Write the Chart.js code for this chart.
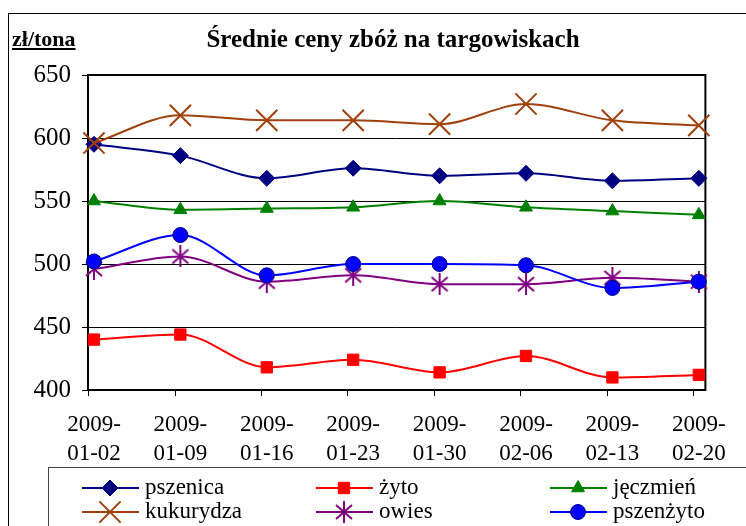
<!DOCTYPE html>
<html lang="pl">
<head>
<meta charset="UTF-8">
<title>Średnie ceny zbóż na targowiskach</title>
<script src="https://cdn.jsdelivr.net/npm/chart.js"></script>
<style>
  html, body { margin: 0; padding: 0; background: #fff; }
  canvas { display: block; }
</style>
</head>
<body>
<canvas id="myChart" width="746" height="526"></canvas>
<script>
// dane (zł/tona)
const categories = ['2009-01-02', '2009-01-09', '2009-01-16', '2009-01-23',
                    '2009-01-30', '2009-02-06', '2009-02-13', '2009-02-20'];
const pszenica  = [595, 586, 568, 576, 570, 572, 566, 568];
const zyto      = [440, 444, 418, 424, 414, 427, 410, 412];
const jeczmien  = [550, 543, 544, 545, 550, 545, 542, 539];
const kukurydza = [596, 618, 614, 614, 611, 627, 614, 610];
const owies     = [496, 506, 486, 491, 484, 484, 489, 486];
const pszenzyto = [502, 523, 491, 500, 500, 499, 481, 486];
const yTicks = [400, 450, 500, 550, 600, 650];

const SERIF = "'Liberation Serif', 'Times New Roman', Times, 'DejaVu Serif', serif";
Chart.defaults.font.family = SERIF;
Chart.defaults.color = '#000';

// gwiazdka excelowa (pionowa kreska + X)
function makeStar(color) {
    const c = document.createElement('canvas');
    c.width = 22; c.height = 22;
    const g = c.getContext('2d');
    g.strokeStyle = color;
    g.lineWidth = 2;
    g.beginPath();
    g.moveTo(11, 0); g.lineTo(11, 22);
    g.moveTo(3, 4); g.lineTo(19, 18);
    g.moveTo(3, 18); g.lineTo(19, 4);
    g.stroke();
    return c;
}

function series(label, values, color, style, radius, fill, bw) {
    return {
        label: label,
        data: values.map((v, i) => ({ x: i, y: v })),
        borderColor: color,
        borderWidth: 2,
        pointStyle: style,
        pointRadius: radius,
        pointBackgroundColor: fill,
        pointBorderColor: color,
        pointBorderWidth: bw,
        cubicInterpolationMode: 'monotone',
        fill: false,
        clip: false
    };
}

const datasets = [
    series('pszenica', pszenica, '#000080', 'rectRot', 8, '#000080', 1),
    series('żyto', zyto, '#FF0000', 'rect', 8, '#FF0000', 1),
    series('jęczmień', jeczmien, '#008000', 'triangle', 7.5, '#008000', 1),
    series('kukurydza', kukurydza, '#A0410D', 'crossRot', 15, '#A0410D', 2),
    series('owies', owies, '#800080', makeStar('#800080'), 11, '#800080', 2),
    series('pszenżyto', pszenzyto, '#0000FF', 'circle', 7.5, '#0000FF', 1)
];
datasets[5].pointBorderColor = '#000080';
// późniejsze serie rysowane na wierzchu
datasets.forEach((d, i) => { d.order = datasets.length - i; });

const extras = {
    id: 'extras',
    beforeDraw(chart) {
        const c = chart.ctx;
        c.save();
        c.fillStyle = '#fff';
        c.fillRect(0, 0, chart.width, chart.height);
        c.strokeStyle = '#000';
        c.lineWidth = 1;
        c.strokeRect(8.5, 13.5, 760, 600);
        c.restore();
    },
    beforeDatasetsDraw(chart) {
        const c = chart.ctx, a = chart.chartArea;
        c.save();
        c.strokeStyle = '#000';
        c.lineWidth = 2;
        c.strokeRect(a.left, a.top, a.right - a.left, a.bottom - a.top);
        // znaczniki osi X
        const xs = chart.scales.x;
        c.lineWidth = 1;
        c.beginPath();
        categories.forEach((cat, i) => {
            const px = Math.round(xs.getPixelForValue(i - 0.066)) + 0.5;
            c.moveTo(px, a.bottom);
            c.lineTo(px, a.bottom + 6);
        });
        c.stroke();
        c.restore();
    },
    afterDraw(chart) {
        const c = chart.ctx;
        c.save();
        // tytuł
        c.fillStyle = '#000';
        c.textBaseline = 'middle';
        c.textAlign = 'center';
        c.font = 'bold 25px ' + SERIF;
        c.fillText('Średnie ceny zbóż na targowiskach', 393, 41);
        c.textAlign = 'left';
        c.font = 'bold 22px ' + SERIF;
        const unit = 'zł/tona';
        c.fillText(unit, 12, 40);
        c.fillRect(12, 48, c.measureText(unit).width, 2);

        // legenda
        c.strokeStyle = '#444';
        c.lineWidth = 1;
        c.strokeRect(48.5, 467.5, 800, 100);
        const cols = [82, 316, 550];
        const rows = [488, 512];
        c.font = '23px ' + SERIF;
        chart.data.datasets.forEach((d, k) => {
            const x0 = cols[k % 3], y = rows[Math.floor(k / 3)];
            c.strokeStyle = d.borderColor;
            c.lineWidth = 2;
            c.beginPath();
            c.moveTo(x0, y);
            c.lineTo(x0 + 57, y);
            c.stroke();
            const mx = x0 + 28;
            if (d.pointStyle instanceof HTMLCanvasElement) {
                c.drawImage(d.pointStyle, mx - d.pointStyle.width / 2, y - d.pointStyle.height / 2);
            } else {
                c.fillStyle = d.pointBackgroundColor;
                c.strokeStyle = d.pointBorderColor;
                c.lineWidth = d.pointBorderWidth;
                Chart.helpers.drawPoint(c, { pointStyle: d.pointStyle, radius: d.pointRadius, rotation: 0, borderWidth: d.pointBorderWidth }, mx, y);
            }
            c.fillStyle = '#000';
            c.fillText(d.label, x0 + 63, y);
        });
        c.restore();
    }
};

function drawChart() {
    const ctx = document.getElementById('myChart').getContext('2d');
    new Chart(ctx, {
        type: 'line',
        data: { datasets: datasets },
        options: {
            responsive: false,
            animation: false,
            events: [],
            layout: { padding: { top: 75, right: 33, left: 0, bottom: 0 } },
            plugins: {
                legend: { display: false },
                title: { display: false },
                tooltip: { enabled: false }
            },
            scales: {
                x: {
                    type: 'linear',
                    min: -0.069,
                    max: 7.076,
                    afterBuildTicks: s => { s.ticks = categories.map((c, i) => ({ value: i })); },
                    afterFit: s => { s.height = 136; },
                    grid: { display: false, drawTicks: false },
                    border: { display: false },
                    ticks: {
                        autoSkip: false,
                        maxRotation: 0,
                        padding: 20,
                        font: { size: 23, lineHeight: 1.26 },
                        callback: (v, i) => {
                            const c = categories[i];
                            return [c.slice(0, 5), c.slice(5)];
                        }
                    }
                },
                y: {
                    min: 400,
                    max: 650,
                    afterBuildTicks: s => { s.ticks = yTicks.map(v => ({ value: v })); },
                    afterFit: s => { s.width = 88; },
                    grid: { color: '#000', lineWidth: 1, tickLength: 6 },
                    border: { display: false },
                    ticks: { padding: 11, font: { size: 25 } }
                }
            }
        },
        plugins: [extras]
    });
}

Promise.all([
    document.fonts.load("23px 'Liberation Serif'"),
    document.fonts.load("bold 23px 'Liberation Serif'")
]).catch(() => {}).then(drawChart);
</script>
</body>
</html>
